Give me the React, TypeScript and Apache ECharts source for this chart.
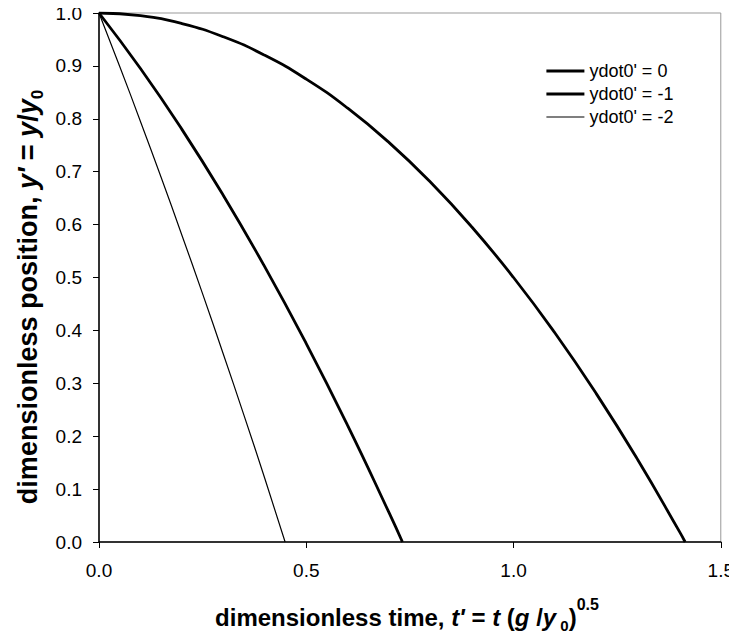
import React, { useEffect, useRef } from "react";
import * as echarts from "echarts";

const seriesNames = ["ydot0' = 0", "ydot0' = -1", "ydot0' = -2"];

const t0 = [0, 0.1, 0.2, 0.3, 0.4, 0.5, 0.6, 0.7, 0.8, 0.9, 1.0, 1.1, 1.2, 1.3, 1.4, 1.414];
const y0 = [1.0, 0.995, 0.98, 0.955, 0.92, 0.875, 0.82, 0.755, 0.68, 0.595, 0.5, 0.395, 0.28, 0.155, 0.02, 0.0];

const t1 = [0, 0.1, 0.2, 0.3, 0.4, 0.5, 0.6, 0.7, 0.732];
const y1 = [1.0, 0.895, 0.78, 0.655, 0.52, 0.375, 0.22, 0.055, 0.0];

const t2 = [0, 0.05, 0.1, 0.15, 0.2, 0.25, 0.3, 0.35, 0.4, 0.449];
const y2 = [1.0, 0.899, 0.795, 0.689, 0.58, 0.469, 0.355, 0.239, 0.12, 0.0];

const lineWidths = [2.8, 2.8, 1.2];

const xTitle = "{b|dimensionless time, }{i|t'}{b| = }{i|t}{b| (}{i|g }{b|/}{i|y}{sub| 0}{b|)}{sup|0.5}";
const yTitle = "{b|dimensionless position, }{i|y'}{b| = }{i|y}{b|/}{i|y}{sub|0}";

const FONT = "'Liberation Sans', Arial, sans-serif";

function richFor(size: number) {
  return {
    b: { fontFamily: FONT, fontWeight: "bold", fontSize: size, fill: "#000" },
    i: { fontFamily: FONT, fontWeight: "bold", fontStyle: "italic", fontSize: size, fill: "#000" },
    sub: { fontFamily: FONT, fontWeight: "bold", fontSize: Math.round(size * 0.62), fill: "#000", verticalAlign: "bottom", padding: [0, 0, -4, 0] },
    sup: { fontFamily: FONT, fontWeight: "bold", fontSize: Math.round(size * 0.66), fill: "#000", verticalAlign: "top", padding: [-9, 0, 0, 0] },
  };
}

export default function App() {
  const ref = useRef<HTMLDivElement>(null);
  useEffect(() => {
    if (!ref.current) return;
    const chart = echarts.init(ref.current, null, { renderer: "svg" });
    const ts = [t0, t1, t2];
    const ys = [y0, y1, y2];
    chart.setOption({
      animation: false,
      backgroundColor: "#fff",
      grid: {
        left: 99,
        right: 16,
        top: 13,
        bottom: 98,
        show: true,
        borderColor: "#999",
        borderWidth: 1,
        containLabel: false,
      },
      legend: {
        orient: "vertical",
        left: 545,
        top: 62,
        padding: 0,
        itemWidth: 38,
        itemHeight: 14,
        itemGap: 5,
        itemStyle: { opacity: 0 },
        textStyle: { fontFamily: FONT, fontSize: 18, color: "#000" },
        data: seriesNames.map((name, k) => ({
          name,
          lineStyle: { color: "#000", width: lineWidths[k] },
        })),
      },
      graphic: [
        {
          type: "text",
          x: 407,
          y: 617,
          style: {
            text: xTitle,
            rich: richFor(24),
            align: "center",
            verticalAlign: "middle",
          },
        },
        {
          type: "text",
          x: 28,
          y: 297,
          rotation: Math.PI / 2,
          style: {
            text: yTitle,
            rich: richFor(27),
            align: "center",
            verticalAlign: "middle",
          },
        },
      ],
      xAxis: {
        type: "value",
        min: 0,
        max: 1.5,
        interval: 0.5,
        axisLine: { show: true, onZero: false, lineStyle: { color: "#000", width: 1.5 } },
        axisTick: { show: true, length: 6, lineStyle: { color: "#000" } },
        splitLine: { show: false },
        axisLabel: {
          fontFamily: FONT,
          fontSize: 19,
          color: "#000",
          margin: 19,
          formatter: (v: number) => v.toFixed(1),
        },
      },
      yAxis: {
        type: "value",
        min: 0,
        max: 1,
        interval: 0.1,
        axisLine: { show: true, onZero: false, lineStyle: { color: "#000", width: 1.5 } },
        axisTick: { show: true, length: 6, lineStyle: { color: "#000" } },
        splitLine: { show: false },
        axisLabel: {
          fontFamily: FONT,
          fontSize: 19,
          color: "#000",
          margin: 17,
          formatter: (v: number) => v.toFixed(1),
        },
      },
      series: seriesNames.map((name, k) => ({
        name,
        type: "line",
        smooth: true,
        symbol: "none",
        data: ts[k].map((t, i) => [t, ys[k][i]]),
        lineStyle: { color: "#000", width: lineWidths[k] },
        itemStyle: { color: "#000" },
      })),
    });
    return () => chart.dispose();
  }, []);
  return <div ref={ref} style={{ width: 737, height: 640, margin: -8 }} />;
}
